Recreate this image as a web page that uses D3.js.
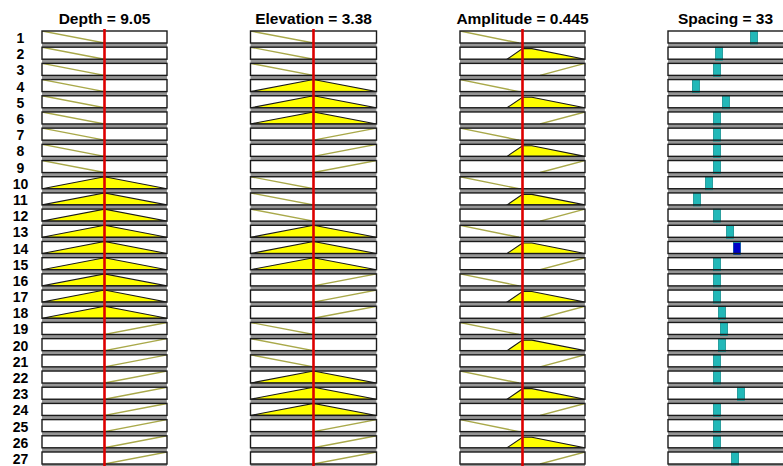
<!DOCTYPE html>
<html>
<head>
<meta charset="utf-8">
<script src="https://cdn.jsdelivr.net/npm/d3@7"></script>
<style>
  body { margin: 0; background: #fff; }
  text { font-family: "Liberation Sans", Arial, sans-serif; font-weight: bold; fill: #000; }
</style>
</head>
<body>
<svg id="rules" width="783" height="466"></svg>
<script>
// rule antecedents, 0 = low, 1 = medium, 2 = high
const depthRule     = [0,0,0,0,0,0,0,0,0, 1,1,1,1,1,1,1,1,1, 2,2,2,2,2,2,2,2,2];
const elevationRule = [0,0,0,1,1,1,2,2,2, 0,0,0,1,1,1,2,2,2, 0,0,0,1,1,1,2,2,2];
const amplitudeRule = [0,1,2,0,1,2,0,1,2, 0,1,2,0,1,2,0,1,2, 0,1,2,0,1,2,0,1,2];

// inputs
const inputNames  = ["Depth", "Elevation", "Amplitude"];
const inputValues = [9.05, 3.38, 0.445];
const inputLabels = ["9.05", "3.38", "0.445"];
const inputRanges = [[0, 18.1], [0, 6.76], [0, 0.89]];

// triangular membership functions [a, b, c]
const depthMFs     = [[-9.05, 0, 9.05], [0, 9.05, 18.1], [9.05, 18.1, 27.15]];
const elevationMFs = [[-3.38, 0, 3.38], [0, 3.38, 6.76], [3.38, 6.76, 10.14]];
const amplitudeMFs = [[-0.44, 0, 0.42], [0.335, 0.46, 0.89], [0.57, 0.89, 1.21]];

// output (singleton per rule)
const spacingRange = [0, 60];
const spacingOut = [41.3, 24.5, 23.5, 13.4, 27.8, 23.5, 23.5, 23.5, 23.5,
                    19.7, 13.9, 23.5, 29.8, 33.1, 23.5, 23.5, 23.5, 25.9,
                    26.9, 25.9, 23.5, 23.5, 35.0, 23.5, 23.5, 23.5, 32.2];
const spacingLabel = "33";

const rules = [depthRule, elevationRule, amplitudeRule];
const mfSets = [depthMFs, elevationMFs, amplitudeMFs];

const svg = d3.select("#rules");
const W = +svg.attr("width");
const H = +svg.attr("height");

const nRules = depthRule.length;
const boxH = 12;
const y = d3.scaleLinear().domain([0, nRules - 1]).range([31, 452]);

const cols = [
  { x0: 42, w: 125 },
  { x0: 250.5, w: 126 },
  { x0: 460, w: 125 }
];
const outCol = { x0: 668, w: 125 };

function trimf(v, p) {
  const [a, b, c] = p;
  if (v <= a || v >= c) return v === b ? 1 : 0;
  return v <= b ? (v - a) / (b - a) : (c - v) / (c - b);
}

const defs = svg.append("defs");

// row numbers
svg.selectAll("text.rowlab")
  .data(d3.range(nRules))
  .enter().append("text")
  .attr("class", "rowlab")
  .attr("x", 20.5)
  .attr("y", i => y(i) + boxH)
  .attr("text-anchor", "middle")
  .style("font-size", "14px")
  .text(i => i + 1);

// box background with grey band under it
function drawBox(g, x0, w, top) {
  g.append("rect")
    .attr("x", x0).attr("y", top + 2)
    .attr("width", w).attr("height", boxH + 2.5)
    .attr("fill", "#959595");
  g.append("rect")
    .attr("x", x0).attr("y", top)
    .attr("width", w).attr("height", boxH)
    .attr("fill", "#fff");
}

function drawFrame(g, x0, w, top) {
  g.append("rect")
    .attr("x", x0).attr("y", top)
    .attr("width", w).attr("height", boxH)
    .attr("fill", "none")
    .attr("stroke", "#1a1a1a")
    .attr("stroke-width", 1.4);
}

// input columns
cols.forEach((col, k) => {
  const x = d3.scaleLinear().domain(inputRanges[k]).range([col.x0, col.x0 + col.w]);
  const g = svg.append("g");

  g.append("text")
    .attr("x", col.x0 + col.w / 2)
    .attr("y", 24)
    .attr("text-anchor", "middle")
    .style("font-size", "15.5px")
    .text(inputNames[k] + " = " + inputLabels[k]);

  d3.range(nRules).forEach(i => {
    const top = y(i);
    const mu = d3.scaleLinear().domain([0, 1]).range([top + boxH, top]);
    const p = mfSets[k][rules[k][i]];
    const deg = trimf(inputValues[k], p);
    const clipId = "c" + k + "_" + i;

    defs.append("clipPath").attr("id", clipId)
      .append("rect")
      .attr("x", col.x0).attr("y", top)
      .attr("width", col.w).attr("height", boxH);

    const row = g.append("g");
    drawBox(row, col.x0, col.w, top);

    const inner = row.append("g").attr("clip-path", "url(#" + clipId + ")");
    const line = d3.line().x(d => x(d[0])).y(d => mu(d[1]));

    if (deg > 0) {
      const [a, b, c] = p;
      const poly = [[a, 0], [a + (b - a) * deg, deg], [c - (c - b) * deg, deg], [c, 0]];
      inner.append("path")
        .attr("d", line(poly) + "Z")
        .attr("fill", "#ffff00")
        .attr("stroke", "#1a1a1a")
        .attr("stroke-width", 1.1);
    } else {
      inner.append("path")
        .attr("d", line([[p[0], 0], [p[1], 1], [p[2], 0]]))
        .attr("fill", "none")
        .attr("stroke", "#a9a94a")
        .attr("stroke-width", 1.4);
    }

    drawFrame(row, col.x0, col.w, top);
  });

  // current input value
  g.append("line")
    .attr("x1", x(inputValues[k])).attr("x2", x(inputValues[k]))
    .attr("y1", 29).attr("y2", H)
    .attr("stroke", "#dd0000")
    .attr("stroke-width", 2.6);
});

// output column
{
  const x = d3.scaleLinear().domain(spacingRange).range([outCol.x0, outCol.x0 + outCol.w]);
  const g = svg.append("g");

  g.append("text")
    .attr("x", (outCol.x0 + Math.min(outCol.x0 + outCol.w, W)) / 2)
    .attr("y", 24)
    .attr("text-anchor", "middle")
    .style("font-size", "15.5px")
    .text("Spacing = " + spacingLabel);

  d3.range(nRules).forEach(i => {
    const top = y(i);
    const row = g.append("g");
    drawBox(row, outCol.x0, outCol.w, top);

    // firing strength of the rule
    const fire = d3.min([0, 1, 2], k => trimf(inputValues[k], mfSets[k][rules[k][i]]));
    const xc = x(spacingOut[i]);

    row.append("rect")
      .attr("x", xc - 3.5).attr("y", top)
      .attr("width", 7).attr("height", boxH + 1)
      .attr("fill", "#22b8b8")
      .attr("stroke", "#139090")
      .attr("stroke-width", 0.8);

    if (fire > 0) {
      row.append("rect")
        .attr("x", xc - 3.5).attr("y", top + boxH * (1 - fire))
        .attr("width", 7).attr("height", boxH * fire + 1)
        .attr("fill", "#0000c8");
    }

    drawFrame(row, outCol.x0, outCol.w, top);
  });
}
</script>
</body>
</html>
